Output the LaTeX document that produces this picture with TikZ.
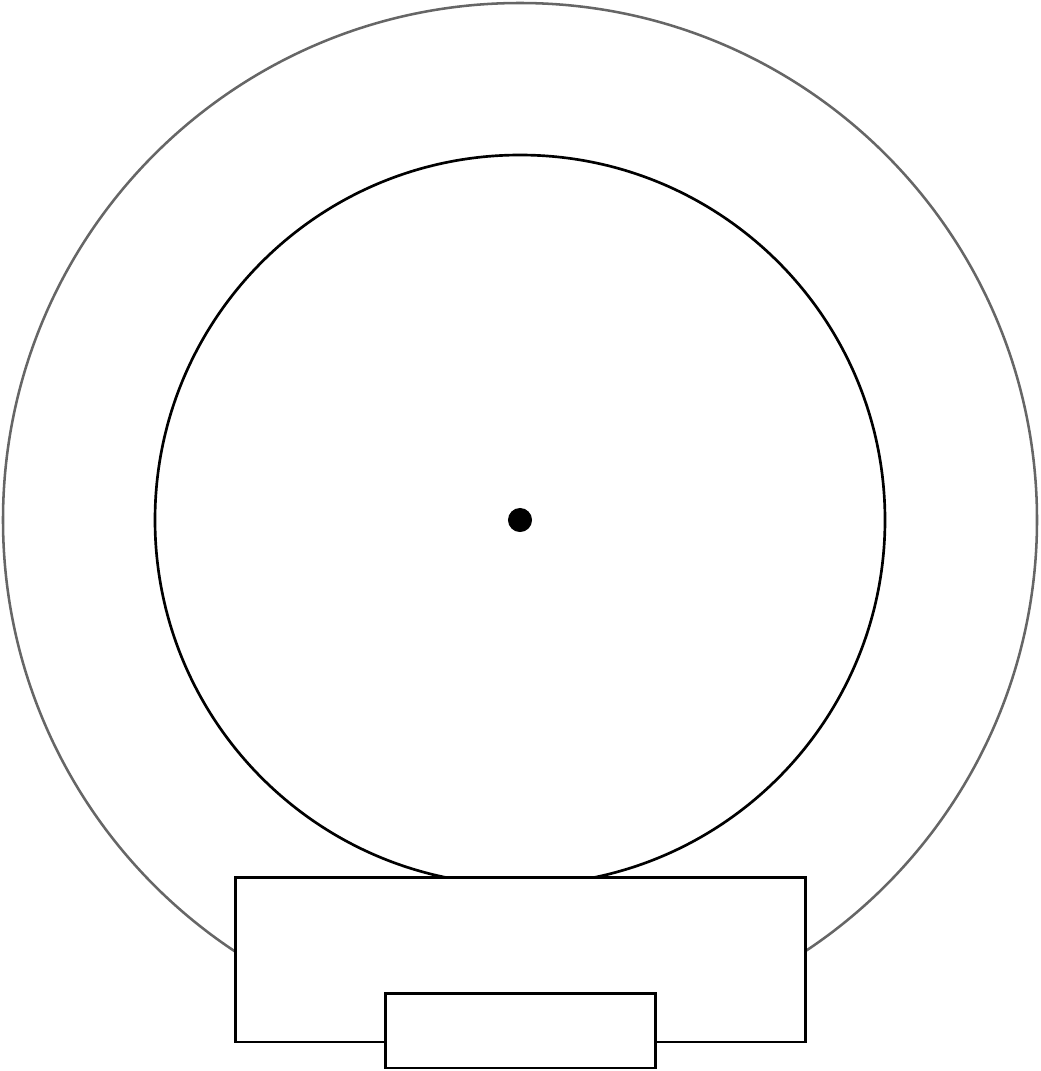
\documentclass[tikz,border=0pt]{standalone}
\usepackage{tikz}

\tikzset{every picture/.style={line width=0.75pt}}

\begin{document}
\begin{tikzpicture}[x=0.75pt,y=0.75pt,yscale=-1,xscale=1]
		\useasboundingbox (0,0) rectangle (1041,1071);

		%Shape: Circle [outer ring]
		\draw  [color={rgb, 255:red, 102; green, 102; blue, 102 }  ,line width=1.9] (520,520) circle [radius=517] ;
		%Shape: Circle [inner disc]
		\draw  [line width=2] (520,520) circle [radius=365] ;
		%Shape: Circle [centre point]
		\draw  [fill={rgb, 255:red, 0; green, 0; blue, 0 }  ,fill opacity=1 ] (520,520) circle [radius=11.5] ;
		%Shape: Rectangle [base]
		\draw  [fill={rgb, 255:red, 255; green, 255; blue, 255 }  ,fill opacity=1 ,line width=2.2] (235.5,877.5) -- (805.5,877.5) -- (805.5,1042) -- (235.5,1042) -- cycle ;
		%Shape: Rectangle [foot]
		\draw  [fill={rgb, 255:red, 255; green, 255; blue, 255 }  ,fill opacity=1 ,line width=2.2] (385.5,993.5) -- (655.5,993.5) -- (655.5,1068) -- (385.5,1068) -- cycle ;

\end{tikzpicture}
\end{document}
